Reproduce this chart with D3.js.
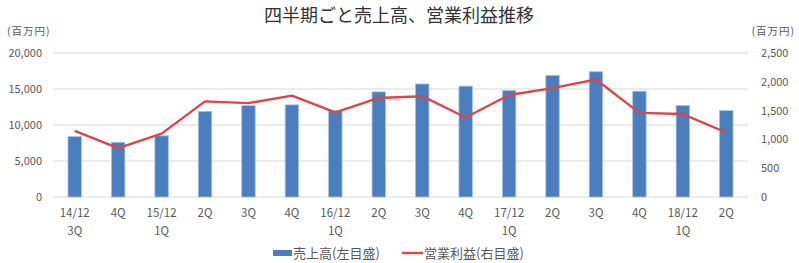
<!DOCTYPE html>
<html>
<head>
<meta charset="utf-8">
<script src="https://cdn.jsdelivr.net/npm/d3@7"></script>
<style>
  body { margin: 0; background: #fff; }
  text { font-family: "Noto Sans CJK JP", "Noto Sans", sans-serif; fill: #595959; }
</style>
</head>
<body>
<div id="chart"></div>
<script>
// data
const periods = ["14/12|3Q","4Q","15/12|1Q","2Q","3Q","4Q","16/12|1Q","2Q","3Q","4Q","17/12|1Q","2Q","3Q","4Q","18/12|1Q","2Q"];
const sales = [8400, 7600, 8500, 11900, 12700, 12800, 12000, 14600, 15700, 15400, 14800, 16900, 17400, 14700, 12700, 12000];
const profit = [1150, 850, 1100, 1660, 1630, 1760, 1470, 1720, 1750, 1380, 1770, 1890, 2040, 1460, 1440, 1120];
const leftTicks = [0, 5000, 10000, 15000, 20000];
const rightTicks = [0, 500, 1000, 1500, 2000, 2500];

// plot area
const width = 799, height = 263;
const plotLeft = 53, plotRight = 748, plotTop = 53, plotBottom = 197;

const svg = d3.select("#chart").append("svg")
    .attr("width", width)
    .attr("height", height);

const x = d3.scaleBand().domain(d3.range(periods.length)).range([plotLeft, plotRight]).paddingInner(0.69).paddingOuter(0.345);
const yL = d3.scaleLinear().domain([0, 20000]).range([plotBottom, plotTop]);
const yR = d3.scaleLinear().domain([0, 2500]).range([plotBottom, plotTop]);

// gridlines
svg.append("g").selectAll("line")
    .data(leftTicks)
    .join("line")
    .attr("x1", plotLeft).attr("x2", plotRight)
    .attr("y1", d => yL(d)).attr("y2", d => yL(d))
    .attr("stroke", "#d9d9d9")
    .attr("stroke-width", 1);

// left axis
const axL = svg.append("g").attr("transform", `translate(${plotLeft},0)`)
    .call(d3.axisLeft(yL).tickValues(leftTicks).tickFormat(d3.format(",")).tickSize(0).tickPadding(11));
axL.select(".domain").remove();
axL.selectAll("text").attr("font-size", 11).attr("font-family", null);

// right axis
const axR = svg.append("g").attr("transform", `translate(${plotRight},0)`)
    .call(d3.axisRight(yR).tickValues(rightTicks).tickFormat(d3.format(",")).tickSize(0).tickPadding(13));
axR.select(".domain").remove();
axR.selectAll("text").attr("font-size", 11).attr("font-family", null);

// unit labels
svg.append("text").attr("x", 7).attr("y", 35).attr("font-size", 10.5).attr("letter-spacing", 1).text("(百万円)");
svg.append("text").attr("x", 795).attr("y", 35).attr("text-anchor", "end").attr("font-size", 10.5).attr("letter-spacing", 1).text("(百万円)");

// bars
svg.append("g").selectAll("rect")
    .data(sales)
    .join("rect")
    .attr("x", (d, i) => x(i))
    .attr("y", d => yL(d))
    .attr("width", x.bandwidth())
    .attr("height", d => plotBottom - yL(d))
    .attr("fill", "#4a7ebf")
    .attr("stroke", "#a9c4e6")
    .attr("stroke-width", 0.8);

// line
const line = d3.line()
    .x((d, i) => x(i) + x.bandwidth() / 2)
    .y(d => yR(d));
svg.append("path")
    .datum(profit)
    .attr("d", line)
    .attr("fill", "none")
    .attr("stroke", "#d9474b")
    .attr("stroke-width", 2.4)
    .attr("stroke-linejoin", "round");

// x labels, two lines where the year starts
const xl = svg.append("g").selectAll("text")
    .data(periods)
    .join("text")
    .attr("text-anchor", "middle")
    .attr("font-size", 11.5)
    .attr("x", (d, i) => x(i) + x.bandwidth() / 2);
xl.each(function(d) {
    const parts = d.split("|");
    d3.select(this).selectAll("tspan")
        .data(parts)
        .join("tspan")
        .attr("x", d3.select(this).attr("x"))
        .attr("y", (p, j) => 217 + j * 17.5)
        .text(p => p);
});

// title
svg.append("text")
    .attr("x", 399).attr("y", 21.5)
    .attr("text-anchor", "middle")
    .attr("font-size", 18)
    .style("fill", "#333")
    .text("四半期ごと売上高、営業利益推移");

// legend
const lg = svg.append("g");
lg.append("rect").attr("x", 273).attr("y", 250).attr("width", 19).attr("height", 6).attr("fill", "#4a7ebf");
lg.append("text").attr("x", 293).attr("y", 257.5).attr("font-size", 13).text("売上高(左目盛)");
lg.append("line").attr("x1", 402).attr("x2", 423).attr("y1", 253).attr("y2", 253).attr("stroke", "#d9474b").attr("stroke-width", 2.4);
lg.append("text").attr("x", 424).attr("y", 257.5).attr("font-size", 13).text("営業利益(右目盛)");
</script>
</body>
</html>
